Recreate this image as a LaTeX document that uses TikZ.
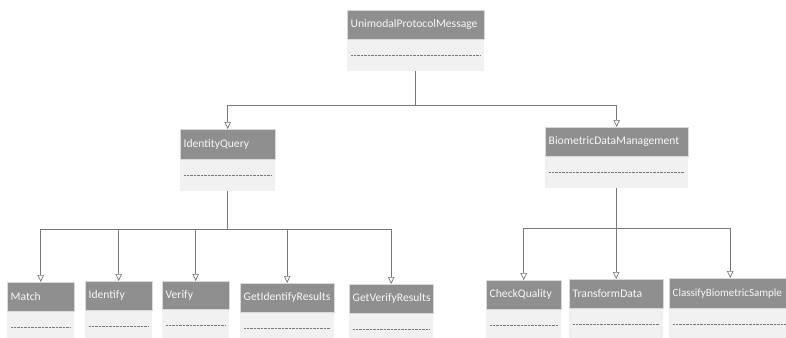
\documentclass[tikz,border=0pt]{standalone}
\usepackage{fontspec}
\setmainfont{Carlito}
\usetikzlibrary{arrows.meta,calc}
\definecolor{hdr}{RGB}{143,143,143}
\definecolor{bdy}{RGB}{241,241,241}
\definecolor{txt}{RGB}{248,248,248}
\definecolor{conn}{RGB}{120,120,120}
\definecolor{dotc}{RGB}{120,120,120}
\tikzset{
  hdrbox/.style={draw=white!85!black, line width=0.4pt, fill=hdr, text=txt, anchor=north west,
    inner xsep=3.5pt, inner ysep=0pt, align=left, font=\fontsize{11.6}{12}\selectfont},
  bdybox/.style={fill=bdy, draw=none, anchor=north west, inner sep=0pt, minimum height=31pt},
  connline/.style={draw=conn, line width=0.7pt, -{Triangle[open, length=7pt, width=6.5pt, fill=white]}},
  plainline/.style={draw=conn, line width=0.7pt},
  dotline/.style={draw=dotc, line width=0.5pt, dash pattern=on 0.5pt off 0.9pt},
}
% \classbox{name}{x}{y}{width}{header height}{text}
\newcommand{\classbox}[6]{%
  \node[hdrbox, text width=#4pt-7pt, minimum height=#5pt] (#1) at (#2pt,-#3pt) {#6};
  \node[bdybox, minimum width=#4pt] (#1-b) at (#1.south west) {};
  \draw[dotline] ([xshift=4pt]#1-b.west) -- ([xshift=-4pt]#1-b.east);
}
\begin{document}
\begin{tikzpicture}[x=1pt,y=1pt]
\useasboundingbox (0,0) rectangle (786,-337);
\classbox{upm}{347}{10}{137}{29}{UnimodalProtocolMessage}
\classbox{iq}{180}{129}{95}{30}{IdentityQuery}
\classbox{bdm}{545}{127}{143}{29}{BiometricDataManagement}
\classbox{match}{7}{282}{67}{29}{Match}
\classbox{ident}{85}{281}{67}{29}{Identify}
\classbox{verify}{162}{281}{67}{28}{Verify}
\classbox{gir}{240}{283}{94}{29}{GetIdentifyResults}
\classbox{gvr}{349}{284}{84}{29}{GetVerifyResults}
\classbox{cq}{486}{280}{75}{29}{CheckQuality}
\classbox{td}{569}{279}{94}{29}{TransformData}
\classbox{cbs}{669}{278}{122}{30}{{\fontsize{11}{12}\selectfont ClassifyBiometricSample}}
\coordinate (busA) at (0,-105);
\coordinate (busB) at (0,-229);
\coordinate (busC) at (0,-228);
% level 1
\draw[plainline] (upm-b.south) -- (upm-b.south |- busA);
\draw[connline] (upm-b.south |- busA) -| (iq.north);
\draw[connline] (upm-b.south |- busA) -| (bdm.north);
% level 2 left
\draw[plainline] (iq-b.south) -- (iq-b.south |- busB);
\foreach \c in {match,ident,verify,gir,gvr}
  \draw[connline] (iq-b.south |- busB) -| (\c.north);
% level 2 right
\draw[plainline] (bdm-b.south) -- (bdm-b.south |- busC);
\foreach \c in {cq,td,cbs}
  \draw[connline] (bdm-b.south |- busC) -| (\c.north);
\end{tikzpicture}
\end{document}
